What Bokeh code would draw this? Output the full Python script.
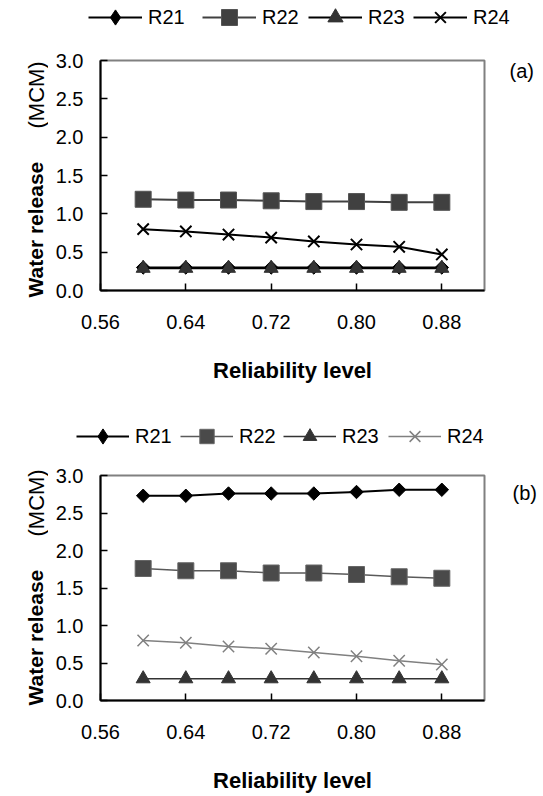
import numpy as np
from bokeh.plotting import figure
from bokeh.models import (Range1d, FixedTicker, Label, Legend, LegendItem,
                          CustomJSTickFormatter)
from bokeh.layouts import column, row
from bokeh.embed import file_html
from bokeh.resources import INLINE

# ---------------- data ----------------
reliability = [0.60, 0.64, 0.68, 0.72, 0.76, 0.80, 0.84, 0.88]
x_ticks = [0.56, 0.64, 0.72, 0.80, 0.88]
y_ticks = [0.0, 0.5, 1.0, 1.5, 2.0, 2.5, 3.0]
series_names = ["R21", "R22", "R23", "R24"]

a_R21 = [0.30, 0.30, 0.30, 0.30, 0.30, 0.30, 0.30, 0.30]
a_R22 = [1.19, 1.18, 1.18, 1.17, 1.16, 1.16, 1.15, 1.15]
a_R23 = [0.29, 0.29, 0.29, 0.29, 0.29, 0.29, 0.29, 0.29]
a_R24 = [0.80, 0.77, 0.73, 0.69, 0.64, 0.60, 0.57, 0.47]

b_R21 = [2.73, 2.73, 2.76, 2.76, 2.76, 2.78, 2.81, 2.81]
b_R22 = [1.76, 1.73, 1.73, 1.70, 1.70, 1.68, 1.65, 1.63]
b_R23 = [0.29, 0.29, 0.29, 0.29, 0.29, 0.29, 0.29, 0.29]
b_R24 = [0.80, 0.77, 0.72, 0.69, 0.64, 0.59, 0.53, 0.48]

FONT = "Liberation Sans"
W_YLAB, W_MAIN, W_TAG = 48, 442, 53


def blank(w, h, yr=(0, 1)):
    p = figure(width=w, height=h, output_backend="svg", toolbar_location=None,
               x_axis_location=None, y_axis_location=None, min_border=0,
               x_range=Range1d(0, 1), y_range=Range1d(*yr))
    p.frame_align = False
    p.grid.visible = False
    p.outline_line_color = None
    return p


def add_series(p, x, v, st, marker=None):
    lr = p.line(x, v, line_color=st["line"], line_width=st["lw"])
    sr = p.scatter(x, v, marker=marker or st["marker"], size=st["size"],
                   angle=st.get("angle", 0.0), fill_color=st["fill"],
                   line_color=st["mline"], line_width=st["mlw"])
    return lr, sr


def make_panel(vals, styles, tag, strip_h, row_h, top, bottom,
               leg_x, leg_cy, leg_gw, leg_standoff,
               bold_y, mcm_y, tag_xy):
    # legend strip (series kept out of its visible range; only legends show)
    ls = blank(W_YLAB + W_MAIN + W_TAG, strip_h, yr=(-2, -1))
    for name, v, st, lx in zip(series_names, vals, styles, leg_x):
        lr, sr = add_series(ls, reliability, v, st, marker=st.get("leg_marker"))
        gh = st["leg_h"]
        leg = Legend(items=[LegendItem(label=name, renderers=[lr, sr])],
                     location=(lx, leg_cy - gh / 2),
                     glyph_width=leg_gw, glyph_height=gh, label_height=gh,
                     label_standoff=leg_standoff,
                     padding=0, margin=0, border_line_color=None,
                     background_fill_alpha=0,
                     label_text_font=FONT, label_text_font_size="20px",
                     label_text_color="black")
        ls.add_layout(leg, "center")

    # y label
    yl = blank(W_YLAB, row_h)
    yl.add_layout(Label(x=35, y=bold_y, x_units="screen", y_units="screen",
                        text="Water release", angle=np.pi / 2, text_align="left",
                        text_baseline="alphabetic", text_font=FONT,
                        text_font_style="bold", text_font_size="21px",
                        text_color="black"))
    yl.add_layout(Label(x=36, y=mcm_y, x_units="screen", y_units="screen",
                        text="(MCM)", angle=np.pi / 2, text_align="left",
                        text_baseline="alphabetic", text_font=FONT,
                        text_font_size="22px", text_color="black"))

    # tag
    tg = blank(W_TAG, row_h)
    tg.add_layout(Label(x=tag_xy[0], y=tag_xy[1], x_units="screen", y_units="screen",
                        text=tag, text_align="left", text_baseline="middle",
                        text_font=FONT, text_font_size="20px", text_color="black"))

    # main plot
    p = figure(width=W_MAIN, height=row_h, output_backend="svg", toolbar_location=None,
               x_range=Range1d(0.56, 0.92), y_range=Range1d(0, 3),
               min_border_left=52, min_border_right=6,
               min_border_top=top, min_border_bottom=bottom)
    p.grid.visible = False
    p.outline_line_color = "#808080"
    p.outline_line_width = 2

    for ax in (p.xaxis[0], p.yaxis[0]):
        ax.axis_line_color = "black"
        ax.axis_line_width = 2
        ax.major_tick_in = 7
        ax.major_tick_out = 0
        ax.major_tick_line_color = "black"
        ax.major_tick_line_width = 1.5
        ax.minor_tick_line_color = None
        ax.major_label_text_font = FONT
        ax.major_label_text_font_size = "20px"
        ax.major_label_text_color = "black"

    p.xaxis.ticker = FixedTicker(ticks=x_ticks)
    p.xaxis.formatter = CustomJSTickFormatter(code="return tick.toFixed(2);")
    p.xaxis.major_label_standoff = 24
    p.xaxis.axis_label = "Reliability level"
    p.xaxis.axis_label_text_font = FONT
    p.xaxis.axis_label_text_font_style = "bold"
    p.xaxis.axis_label_text_font_size = "22px"
    p.xaxis.axis_label_text_color = "black"
    p.xaxis.axis_label_standoff = 26

    p.yaxis.ticker = FixedTicker(ticks=y_ticks)
    p.yaxis.formatter = CustomJSTickFormatter(code="return tick.toFixed(1);")
    p.yaxis.major_label_standoff = 17

    for v, st in zip(vals, styles):
        add_series(p, reliability, v, st)

    return column(ls, row(yl, p, tg, spacing=0), spacing=0)


styles_a = [
    dict(line="black", lw=2, marker="square", angle=np.pi / 4, size=9.5,
         fill="black", mline="black", mlw=1, leg_h=38, leg_marker="diamond"),
    dict(line="#404040", lw=2, marker="square", size=16, fill="#404040",
         mline="#555555", mlw=1, leg_h=40),
    dict(line="black", lw=2, marker="triangle", size=14, fill="#333333",
         mline="#333333", mlw=1, leg_h=38),
    dict(line="black", lw=2, marker="x", size=16, fill="black",
         mline="black", mlw=2, leg_h=38),
]
styles_b = [
    dict(line="black", lw=2, marker="square", angle=np.pi / 4, size=9.5,
         fill="black", mline="black", mlw=1, leg_h=38, leg_marker="diamond"),
    dict(line="#5a5a5a", lw=1.5, marker="square", size=16, fill="#4a4a4a",
         mline="#666666", mlw=1, leg_h=36),
    dict(line="#333333", lw=1.5, marker="triangle", size=14, fill="#333333",
         mline="#333333", mlw=1, leg_h=34),
    dict(line="#808080", lw=1.5, marker="x", size=16, fill="#808080",
         mline="#808080", mlw=1.5, leg_h=38),
]

panel_a = make_panel([a_R21, a_R22, a_R23, a_R24], styles_a, "(a)",
                     40, 358, 20, 108,
                     [88, 202, 308, 413], 23, 54, 6,
                     101, 270, (19, 328))
panel_b = make_panel([b_R21, b_R22, b_R23, b_R24], styles_b, "(b)",
                     50, 348, 27, 96,
                     [76, 180, 283, 388], 12, 53, 6,
                     91, 260, (22, 304))

layout = column(panel_a, panel_b, spacing=0)
open("out.html", "w").write(file_html(layout, INLINE))
